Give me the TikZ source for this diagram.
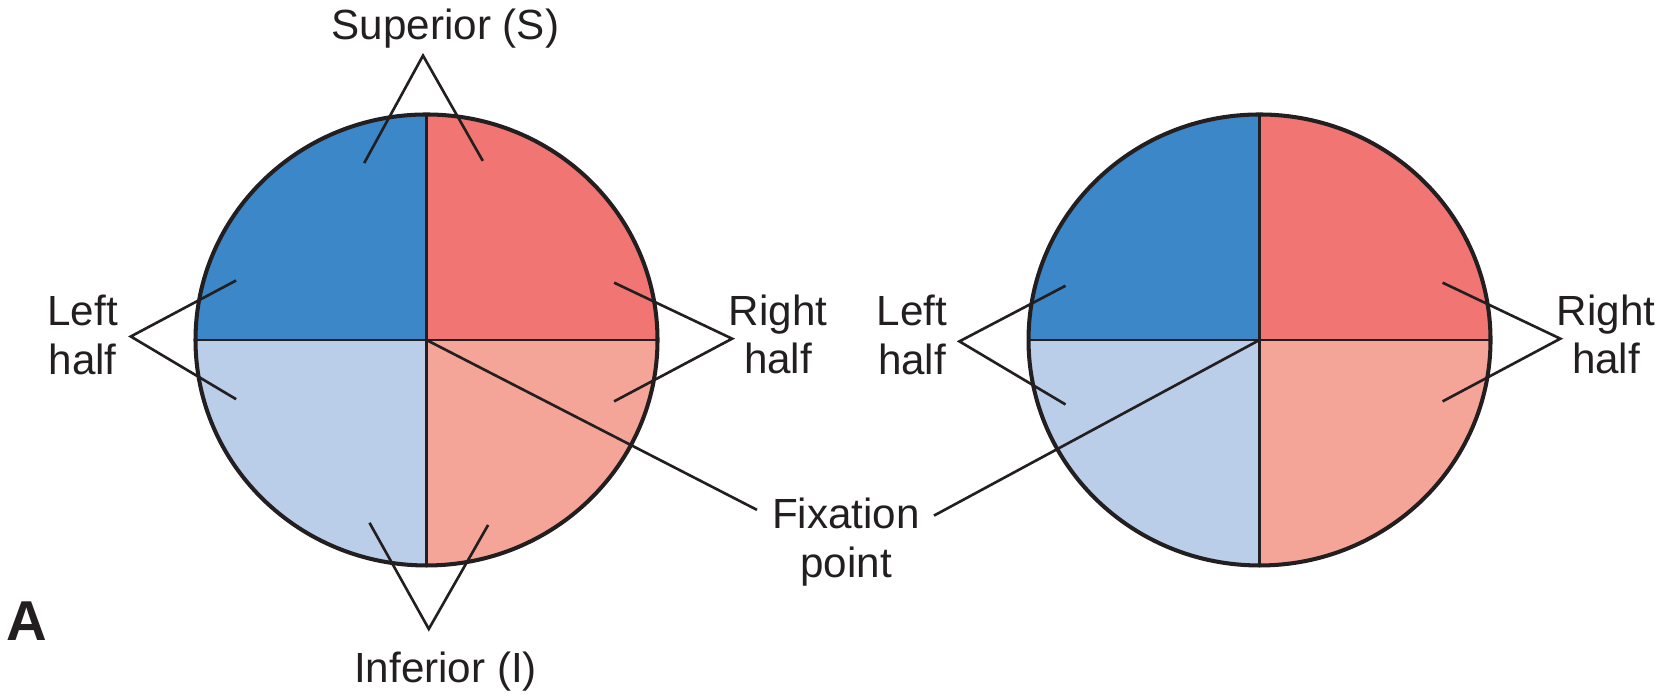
\documentclass[tikz,border=0pt]{standalone}
\usepackage{fontspec}
\setmainfont{Liberation Sans}
\definecolor{supblue}{RGB}{59,135,199}
\definecolor{infblue}{RGB}{186,205,233}
\definecolor{supred}{RGB}{241,118,115}
\definecolor{infred}{RGB}{245,165,152}
\definecolor{ink}{RGB}{35,31,32}
\tikzset{
  outline/.style  = {draw=ink, line width=1.15pt},
  divider/.style  = {draw=ink, line width=0.7pt},
  pointer/.style  = {draw=ink, line width=0.75pt, line join=miter},
  fieldlbl/.style = {font=\fontsize{12}{13.9}\selectfont, text=ink, align=center},
  panellbl/.style = {font=\fontsize{16}{18}\selectfont\bfseries, text=ink},
}

\begin{document}
\begin{tikzpicture}
  \useasboundingbox (0,0) rectangle (16.58,6.97);
  \def\rx{2.31}
  \def\ry{2.255}

  % two visual fields, four quadrants each
  \foreach \cx/\eye in {4.265/L,12.595/R} {
    \coordinate (c\eye) at (\cx,3.57);
    \fill[supblue] (c\eye) -- ++(0,\ry) arc[start angle=90,end angle=180,x radius=\rx,y radius=\ry] -- cycle;
    \fill[infblue] (c\eye) -- ++(-\rx,0) arc[start angle=180,end angle=270,x radius=\rx,y radius=\ry] -- cycle;
    \fill[infred]  (c\eye) -- ++(0,-\ry) arc[start angle=270,end angle=360,x radius=\rx,y radius=\ry] -- cycle;
    \fill[supred]  (c\eye) -- ++(\rx,0) arc[start angle=0,end angle=90,x radius=\rx,y radius=\ry] -- cycle;
    \draw[divider] (c\eye) ++(-\rx,0) -- ++(2*\rx,0);
    \draw[divider] (c\eye) ++(0,-\ry) -- ++(0,2*\ry);
    \draw[outline] (c\eye) ellipse[x radius=\rx,y radius=\ry];
  }

  % labels
  \node[fieldlbl, anchor=base] (sup) at (4.455,6.57) {Superior (S)};
  \node[fieldlbl, anchor=base] (inf) at (4.456,0.14) {Inferior (I)};
  \node[fieldlbl] (lhL) at (0.826,3.62) {Left\\half};
  \node[fieldlbl] (rhL) at (7.78,3.625) {Right\\half};
  \node[fieldlbl] (lhR) at (9.12,3.62) {Left\\half};
  \node[fieldlbl] (rhR) at (16.06,3.625) {Right\\half};
  \node[fieldlbl] (fix) at (8.46,1.55) {Fixation\\point};
  \node[panellbl, anchor=base] (panel) at (0.27,0.56) {A};

  % chevrons, left field
  \coordinate (supA) at (4.23,6.414);
  \coordinate (supL) at (3.642,5.339);
  \coordinate (supR) at (4.828,5.361);
  \draw[pointer] (supL) -- (supA) -- (supR);
  \coordinate (infA) at (4.288,0.68);
  \coordinate (infL) at (3.695,1.742);
  \coordinate (infR) at (4.881,1.72);
  \draw[pointer] (infL) -- (infA) -- (infR);
  \coordinate (lhLA) at (1.308,3.605);
  \coordinate (lhLu) at (2.361,4.165);
  \coordinate (lhLd) at (2.361,2.978);
  \draw[pointer] (lhLu) -- (lhLA) -- (lhLd);
  \coordinate (rhLA) at (7.321,3.583);
  \coordinate (rhLu) at (6.141,4.143);
  \coordinate (rhLd) at (6.141,2.956);
  \draw[pointer] (rhLu) -- (rhLA) -- (rhLd);

  % chevrons, right field
  \coordinate (lhRA) at (9.594,3.556);
  \coordinate (lhRu) at (10.655,4.112);
  \coordinate (lhRd) at (10.655,2.925);
  \draw[pointer] (lhRu) -- (lhRA) -- (lhRd);
  \coordinate (rhRA) at (15.603,3.583);
  \coordinate (rhRu) at (14.426,4.143);
  \coordinate (rhRd) at (14.426,2.956);
  \draw[pointer] (rhRu) -- (rhRA) -- (rhRd);

  % fixation point leaders
  \coordinate (fixL) at (7.57,1.871);
  \coordinate (fixR) at (9.34,1.814);
  \draw[pointer] (cL) -- (fixL);
  \draw[pointer] (cR) -- (fixR);
\end{tikzpicture}
\end{document}
